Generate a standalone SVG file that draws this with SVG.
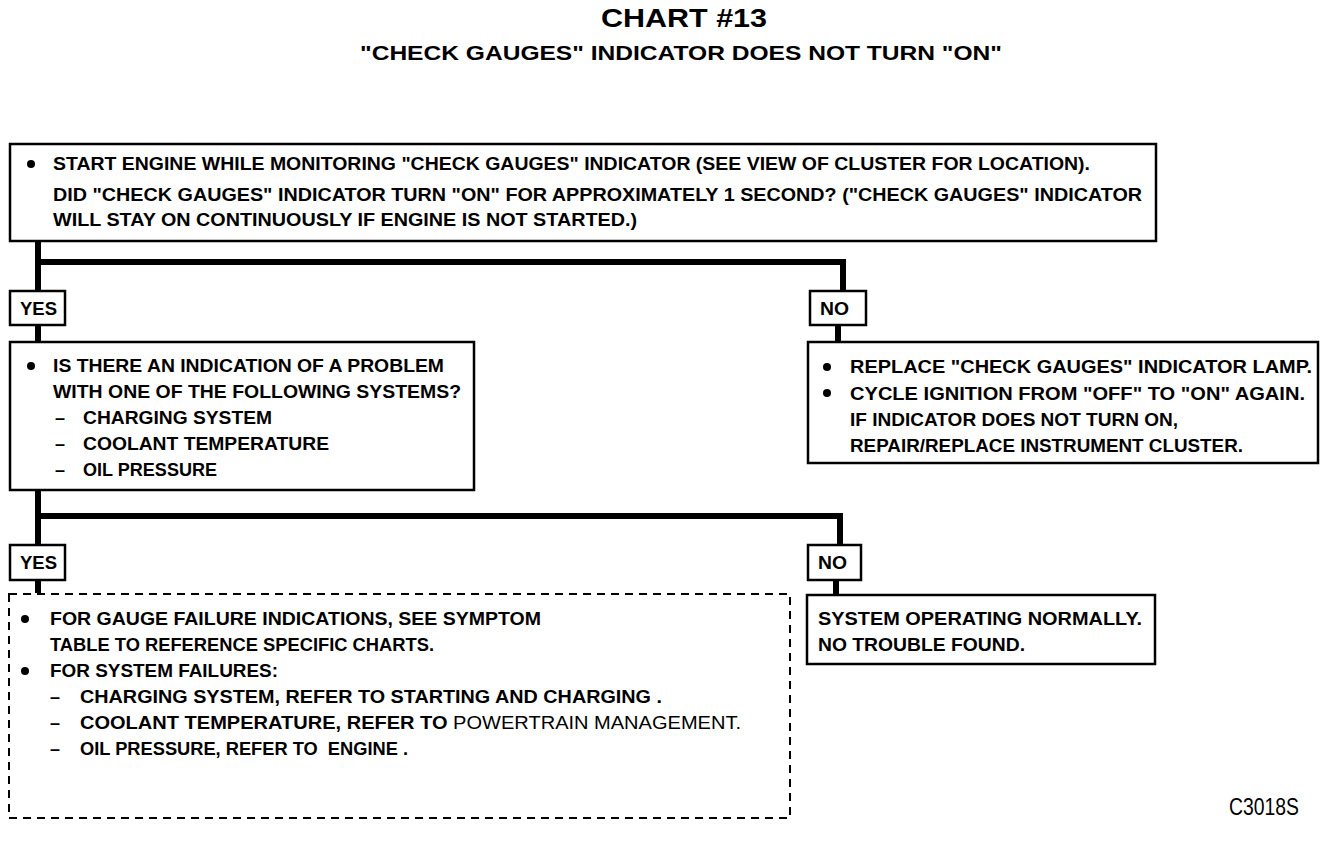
<svg xmlns="http://www.w3.org/2000/svg" width="1344" height="850" viewBox="0 0 1344 850">
<style>
text{font-family:"Liberation Sans",Arial,sans-serif;fill:#000}
.b{font-weight:bold;font-size:18px}
.r{font-weight:normal}
.box{fill:#fff;stroke:#000;stroke-width:2.5}
.dash{fill:#fff;stroke:#000;stroke-width:2;stroke-dasharray:8 6}
.con{fill:none;stroke:#000;stroke-width:6}
.t1{font-weight:bold;font-size:25px}
.t2{font-weight:bold;font-size:21px}
</style>
<rect width="1344" height="850" fill="#fff"/>
<g id="title">
<text class="t1" x="684" y="27" text-anchor="middle" textLength="166" lengthAdjust="spacingAndGlyphs">CHART #13</text>
<text class="t2" x="681" y="60" text-anchor="middle" textLength="642" lengthAdjust="spacingAndGlyphs">"CHECK GAUGES" INDICATOR DOES NOT TURN "ON"</text>
</g>
<g id="connectors">
<path class="con" d="M38 241V291M38 262H843V291"/>
<path class="con" d="M38 325V342M838 325V342"/>
<path class="con" d="M38 490V545M38 516H840V545"/>
<path class="con" d="M38 580V593M836 580V594"/>
</g>
<g id="start">
<rect class="box" x="10" y="144" width="1146" height="97"/>
<circle cx="31" cy="164" r="4"/>
<text class="b" x="53" y="170" textLength="1037" lengthAdjust="spacingAndGlyphs">START ENGINE WHILE MONITORING "CHECK GAUGES" INDICATOR (SEE VIEW OF CLUSTER FOR LOCATION).</text>
<text class="b" x="53" y="201" textLength="1089" lengthAdjust="spacingAndGlyphs">DID "CHECK GAUGES" INDICATOR TURN "ON" FOR APPROXIMATELY 1 SECOND? ("CHECK GAUGES" INDICATOR</text>
<text class="b" x="53" y="226" textLength="584" lengthAdjust="spacingAndGlyphs">WILL STAY ON CONTINUOUSLY IF ENGINE IS NOT STARTED.)</text>
</g>
<g id="yes1">
<rect class="box" x="10" y="291" width="55" height="34"/>
<text class="b" x="20" y="315" textLength="37" lengthAdjust="spacingAndGlyphs">YES</text>
</g>
<g id="no1">
<rect class="box" x="810" y="291" width="56" height="34"/>
<text class="b" x="820" y="315" textLength="29" lengthAdjust="spacingAndGlyphs">NO</text>
</g>
<g id="question">
<rect class="box" x="10" y="342" width="464" height="148"/>
<circle cx="31" cy="366" r="4"/>
<text class="b" x="53" y="372" textLength="391" lengthAdjust="spacingAndGlyphs">IS THERE AN INDICATION OF A PROBLEM</text>
<text class="b" x="53" y="398" textLength="408" lengthAdjust="spacingAndGlyphs">WITH ONE OF THE FOLLOWING SYSTEMS?</text>
<text class="b" x="55" y="424">–</text>
<text class="b" x="83" y="424" textLength="189" lengthAdjust="spacingAndGlyphs">CHARGING SYSTEM</text>
<text class="b" x="55" y="450">–</text>
<text class="b" x="83" y="450" textLength="246" lengthAdjust="spacingAndGlyphs">COOLANT TEMPERATURE</text>
<text class="b" x="55" y="476">–</text>
<text class="b" x="83" y="476" textLength="134" lengthAdjust="spacingAndGlyphs">OIL PRESSURE</text>
</g>
<g id="replace">
<rect class="box" x="808" y="342" width="510" height="121"/>
<circle cx="827" cy="367" r="4"/>
<text class="b" x="850" y="373" textLength="462" lengthAdjust="spacingAndGlyphs">REPLACE "CHECK GAUGES" INDICATOR LAMP.</text>
<circle cx="827" cy="393" r="4"/>
<text class="b" x="850" y="400" textLength="455" lengthAdjust="spacingAndGlyphs">CYCLE IGNITION FROM "OFF" TO "ON" AGAIN.</text>
<text class="b" x="850" y="426" textLength="328" lengthAdjust="spacingAndGlyphs">IF INDICATOR DOES NOT TURN ON,</text>
<text class="b" x="850" y="452" textLength="393" lengthAdjust="spacingAndGlyphs">REPAIR/REPLACE INSTRUMENT CLUSTER.</text>
</g>
<g id="yes2">
<rect class="box" x="10" y="545" width="55" height="35"/>
<text class="b" x="20" y="569" textLength="37" lengthAdjust="spacingAndGlyphs">YES</text>
</g>
<g id="no2">
<rect class="box" x="808" y="545" width="53" height="35"/>
<text class="b" x="818" y="569" textLength="29" lengthAdjust="spacingAndGlyphs">NO</text>
</g>
<g id="refer">
<rect class="dash" x="9" y="594" width="781" height="224"/>
<circle cx="25" cy="619" r="4"/>
<text class="b" x="50" y="625" textLength="491" lengthAdjust="spacingAndGlyphs">FOR GAUGE FAILURE INDICATIONS, SEE SYMPTOM</text>
<text class="b" x="50" y="651" textLength="384" lengthAdjust="spacingAndGlyphs">TABLE TO REFERENCE SPECIFIC CHARTS.</text>
<circle cx="25" cy="671" r="4"/>
<text class="b" x="50" y="677" textLength="228" lengthAdjust="spacingAndGlyphs">FOR SYSTEM FAILURES:</text>
<text class="b" x="50" y="703">–</text>
<text class="b" x="80" y="703" textLength="582" lengthAdjust="spacingAndGlyphs">CHARGING SYSTEM, REFER TO STARTING AND CHARGING .</text>
<text class="b" x="50" y="729">–</text>
<text class="b" x="80" y="729" textLength="661" lengthAdjust="spacingAndGlyphs">COOLANT TEMPERATURE, REFER TO <tspan class="r">POWERTRAIN MANAGEMENT.</tspan></text>
<text class="b" x="50" y="755">–</text>
<text class="b" x="80" y="755" textLength="328" lengthAdjust="spacingAndGlyphs" xml:space="preserve">OIL PRESSURE, REFER TO  ENGINE .</text>
</g>
<g id="normal">
<rect class="box" x="807" y="595" width="348" height="69"/>
<text class="b" x="818" y="625" textLength="324" lengthAdjust="spacingAndGlyphs">SYSTEM OPERATING NORMALLY.</text>
<text class="b" x="818" y="651" textLength="207" lengthAdjust="spacingAndGlyphs">NO TROUBLE FOUND.</text>
</g>
<text x="1229" y="815" font-size="23" textLength="70" lengthAdjust="spacingAndGlyphs">C3018S</text>
</svg>
